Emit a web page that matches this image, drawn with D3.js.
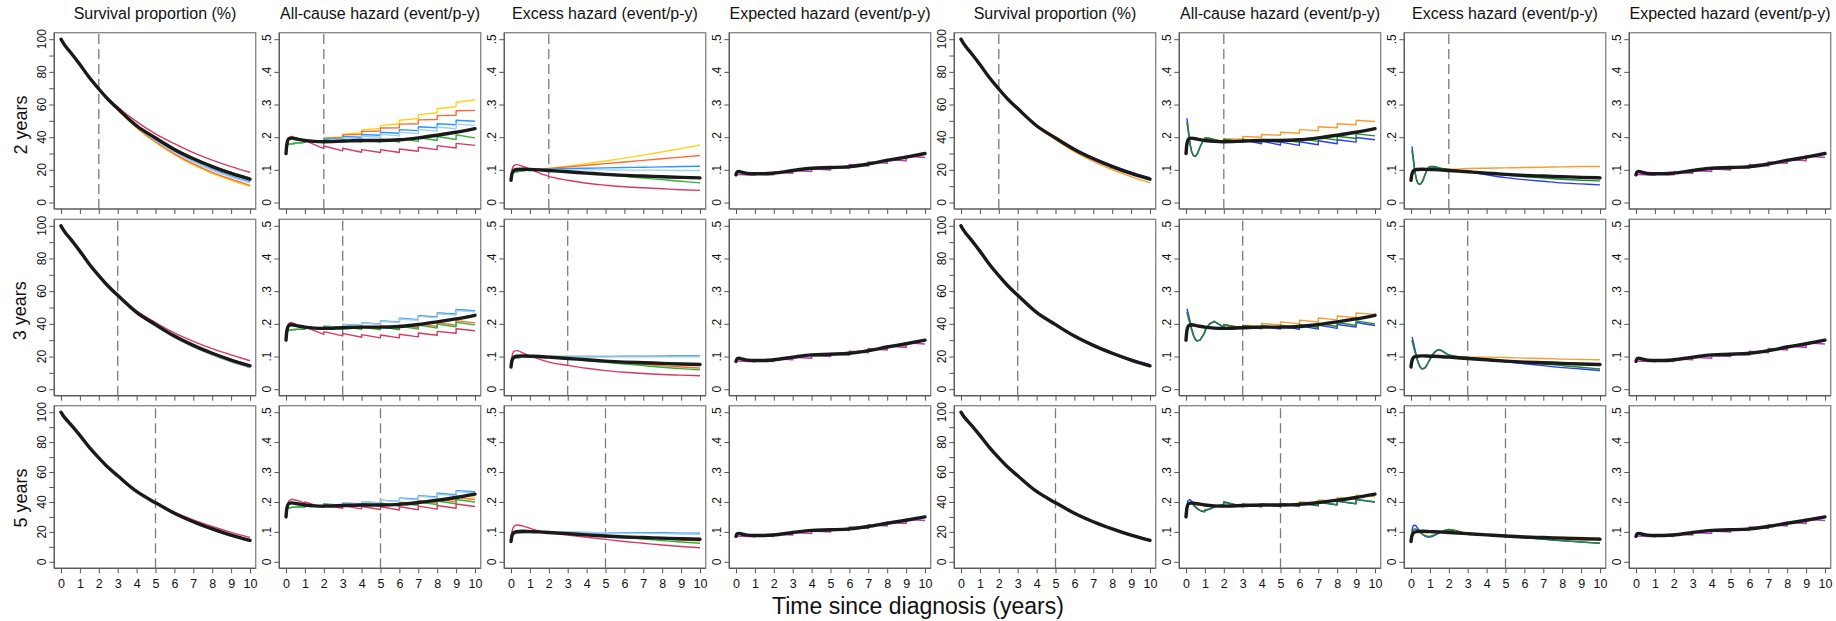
<!DOCTYPE html>
<html>
<head>
<meta charset="utf-8">
<script src="https://cdn.jsdelivr.net/npm/d3@7"></script>
<style>
  body { margin: 0; background: #ffffff; }
  text { font-family: "Liberation Sans", Arial, Helvetica, sans-serif; fill: #111; }
</style>
</head>
<body>
<svg id="chart" width="1836" height="621"></svg>
<script>
// ---------- labels and ticks ----------
const columnTitles = ["Survival proportion (%)", "All-cause hazard (event/p-y)", "Excess hazard (event/p-y)", "Expected hazard (event/p-y)"];
const rowLabels = ["2 years", "3 years", "5 years"];
const cutYears = [2, 3, 5];
const xTicks = [0, 1, 2, 3, 4, 5, 6, 7, 8, 9, 10];
const survTicks = [0, 10, 20, 30, 40, 50, 60, 70, 80, 90, 100];
const survLabelTicks = [0, 20, 40, 60, 80, 100];
const survTickLabels = ["0", "20", "40", "60", "80", "100"];
const hazTicks = [0, 0.1, 0.2, 0.3, 0.4, 0.5];
const hazTickLabels = ["0", ".1", ".2", ".3", ".4", ".5"];
const xTitle = "Time since diagnosis (years)";

// ---------- time grids ----------
const tSurvBlack = [0, 0.1, 0.25, 0.5, 1, 1.5, 2, 2.5, 3, 4, 5, 6, 7, 8, 9, 10];
const tFrom2 = [2, 3, 4, 5, 6, 7, 8, 9, 10];
const tFrom3 = [3, 4, 5, 6, 7, 8, 9, 10];
const tFrom5 = [5, 6, 7, 8, 9, 10];
const tSmooth = [0, 0.05, 0.15, 0.3, 0.6, 1, 1.5, 2, 3, 4, 5, 6, 7, 8, 9, 10];
// repeated years: value just before, then just after the yearly life-table jump
const tSaw = [0, 0.05, 0.15, 0.3, 0.6, 1, 1, 1.5, 2, 2, 3, 3, 4, 4, 5, 5, 6, 6, 7, 7, 8, 8, 9, 9, 10];
const tSawRight = [0.05, 0.1, 0.2, 0.3, 0.4, 0.5, 0.6, 0.75, 0.9, 1, 1, 1.25, 1.5, 2, 2, 3, 3, 4, 4, 5, 5, 6, 6, 7, 7, 8, 8, 9, 9, 10];
const tOsc = [0.05, 0.1, 0.2, 0.3, 0.4, 0.5, 0.6, 0.75, 0.9, 1, 1.25, 1.5, 2, 3, 4, 5, 6, 7, 8, 9, 10];
const tStep = [0, 1, 1, 2, 2, 3, 3, 4, 4, 5, 5, 6, 6, 7, 7, 8, 8, 9, 9, 10];

// ---------- full-data model (thick black) ----------
const survBlack = [100, 98, 95.5, 92, 84.5, 76.5, 69.5, 63, 57.5, 47, 39.5, 32.5, 26.8, 22, 17.8, 14.3];
const allCauseBlack = [0.150, 0.180, 0.195, 0.197, 0.194, 0.190, 0.187, 0.186, 0.188, 0.190, 0.190, 0.192, 0.198, 0.206, 0.215, 0.226];
const excessBlack = [0.068, 0.087, 0.098, 0.101, 0.102, 0.101, 0.100, 0.098, 0.094, 0.090, 0.086, 0.083, 0.081, 0.079, 0.077, 0.0755];
const expectedBlack = [0.085, 0.093, 0.095, 0.093, 0.089, 0.088, 0.088, 0.090, 0.098, 0.105, 0.107, 0.110, 0.118, 0.129, 0.139, 0.150];
const expectedLifeTable = [0.086, 0.084, 0.088, 0.085, 0.093, 0.090, 0.098, 0.095, 0.103, 0.100, 0.109, 0.105, 0.116, 0.112, 0.124, 0.120, 0.132, 0.128, 0.142, 0.138];

// ---------- left block, 2-year follow-up ----------
const survL1Yellow = [69.5, 56.6, 45.7, 36.8, 29.3, 23.0, 17.9, 13.6, 9.8];
const survL1Orange = [69.5, 56.8, 46.0, 37.2, 29.8, 23.6, 18.5, 14.3, 10.5];
const survL1Blue = [69.5, 57.2, 46.5, 38.2, 31.1, 25.1, 20.2, 16.1, 12.6];
const survL1LightBlue = [69.5, 57.1, 46.4, 38.0, 30.8, 24.8, 19.8, 15.6, 12.0];
const survL1Green = [69.5, 57.6, 47.5, 39.8, 33.0, 27.4, 22.6, 18.5, 15.0];
const survL1Crimson = [69.5, 58.5, 49.5, 42.0, 36.0, 30.5, 26.0, 22.0, 18.5];

const allL1Yellow = [0.174, 0.176, 0.178, 0.180, 0.182, 0.184, 0.188, 0.189, 0.189, 0.197, 0.201, 0.209, 0.214, 0.222, 0.227, 0.236, 0.241, 0.252, 0.257, 0.269, 0.275, 0.287, 0.293, 0.307, 0.314];
const allL1Orange = [0.174, 0.176, 0.178, 0.180, 0.182, 0.184, 0.188, 0.189, 0.189, 0.197, 0.199, 0.207, 0.209, 0.217, 0.219, 0.228, 0.229, 0.240, 0.241, 0.253, 0.254, 0.266, 0.267, 0.281, 0.282];
const allL1Blue = [0.174, 0.176, 0.178, 0.180, 0.182, 0.184, 0.188, 0.188, 0.187, 0.195, 0.194, 0.202, 0.200, 0.208, 0.206, 0.215, 0.212, 0.223, 0.220, 0.232, 0.229, 0.241, 0.238, 0.252, 0.249];
const allL1LightBlue = [0.174, 0.176, 0.178, 0.180, 0.182, 0.184, 0.188, 0.188, 0.186, 0.194, 0.190, 0.198, 0.195, 0.203, 0.200, 0.209, 0.204, 0.215, 0.211, 0.223, 0.219, 0.231, 0.226, 0.240, 0.236];
const allL1Green = [0.174, 0.176, 0.178, 0.180, 0.182, 0.184, 0.188, 0.188, 0.185, 0.193, 0.185, 0.193, 0.185, 0.193, 0.185, 0.194, 0.185, 0.196, 0.187, 0.199, 0.190, 0.202, 0.193, 0.207, 0.198];
const allL1Crimson = [0.161, 0.184, 0.199, 0.202, 0.196, 0.186, 0.190, 0.177, 0.165, 0.173, 0.158, 0.166, 0.154, 0.162, 0.153, 0.162, 0.153, 0.164, 0.157, 0.169, 0.162, 0.174, 0.167, 0.181, 0.175];

const excL1Yellow = [0.088, 0.090, 0.092, 0.094, 0.097, 0.100, 0.102, 0.104, 0.111, 0.119, 0.127, 0.136, 0.145, 0.155, 0.165, 0.176];
const excL1Orange = [0.088, 0.090, 0.092, 0.094, 0.097, 0.100, 0.102, 0.104, 0.109, 0.114, 0.119, 0.124, 0.129, 0.134, 0.139, 0.144];
const excL1Blue = [0.088, 0.090, 0.092, 0.094, 0.097, 0.100, 0.101, 0.102, 0.104, 0.105, 0.106, 0.107, 0.108, 0.109, 0.110, 0.111];
const excL1LightBlue = [0.088, 0.090, 0.092, 0.094, 0.097, 0.100, 0.101, 0.101, 0.100, 0.100, 0.100, 0.099, 0.099, 0.099, 0.098, 0.098];
const excL1Green = [0.088, 0.090, 0.092, 0.094, 0.097, 0.100, 0.101, 0.100, 0.095, 0.090, 0.085, 0.080, 0.075, 0.070, 0.065, 0.060];
const excL1Crimson = [0.075, 0.098, 0.113, 0.116, 0.111, 0.102, 0.090, 0.080, 0.068, 0.059, 0.053, 0.048, 0.045, 0.042, 0.039, 0.037];

// ---------- left block, 3-year follow-up ----------
const survL2Yellow = [57.5, 46.8, 38.7, 31.7, 25.9, 20.9, 16.7, 13.1];
const survL2Orange = [57.5, 47.0, 39.5, 32.6, 26.9, 22.1, 18.0, 14.4];
const survL2Blue = [57.5, 46.8, 38.8, 31.8, 26.0, 21.1, 16.9, 13.3];
const survL2LightBlue = [57.5, 46.8, 38.8, 31.8, 26.0, 21.0, 16.8, 13.2];
const survL2Green = [57.5, 47.1, 39.6, 32.7, 27.0, 22.3, 18.2, 14.6];
const survL2Crimson = [57.5, 48.0, 40.8, 34.5, 29.3, 24.8, 21.0, 17.4];

const allL2Yellow = [0.174, 0.177, 0.180, 0.182, 0.183, 0.183, 0.187, 0.187, 0.185, 0.193, 0.190, 0.198, 0.195, 0.203, 0.200, 0.209, 0.205, 0.216, 0.212, 0.224, 0.221, 0.233, 0.229, 0.243, 0.239];
const allL2Orange = [0.174, 0.177, 0.180, 0.182, 0.183, 0.183, 0.187, 0.186, 0.183, 0.191, 0.185, 0.193, 0.185, 0.193, 0.185, 0.194, 0.185, 0.196, 0.188, 0.200, 0.192, 0.204, 0.196, 0.210, 0.203];
const allL2Blue = [0.174, 0.177, 0.180, 0.182, 0.183, 0.183, 0.187, 0.187, 0.185, 0.193, 0.190, 0.198, 0.195, 0.203, 0.200, 0.209, 0.206, 0.217, 0.213, 0.225, 0.221, 0.233, 0.230, 0.244, 0.240];
const allL2LightBlue = [0.174, 0.177, 0.180, 0.182, 0.183, 0.183, 0.187, 0.187, 0.185, 0.193, 0.189, 0.197, 0.194, 0.202, 0.199, 0.208, 0.204, 0.215, 0.211, 0.223, 0.219, 0.231, 0.227, 0.241, 0.237];
const allL2Green = [0.174, 0.177, 0.180, 0.182, 0.183, 0.183, 0.187, 0.186, 0.183, 0.191, 0.184, 0.192, 0.183, 0.191, 0.182, 0.191, 0.182, 0.193, 0.184, 0.196, 0.187, 0.199, 0.191, 0.205, 0.197];
const allL2Crimson = [0.161, 0.186, 0.202, 0.204, 0.197, 0.186, 0.190, 0.179, 0.168, 0.176, 0.163, 0.171, 0.159, 0.167, 0.157, 0.166, 0.157, 0.168, 0.160, 0.172, 0.165, 0.177, 0.171, 0.185, 0.179];

const excL2Yellow = [0.088, 0.091, 0.094, 0.096, 0.098, 0.099, 0.100, 0.100, 0.100, 0.100, 0.100, 0.100, 0.100, 0.101, 0.101, 0.101];
const excL2Orange = [0.088, 0.091, 0.094, 0.096, 0.098, 0.099, 0.099, 0.098, 0.095, 0.090, 0.085, 0.080, 0.076, 0.072, 0.068, 0.065];
const excL2Blue = [0.088, 0.091, 0.094, 0.096, 0.098, 0.099, 0.100, 0.100, 0.100, 0.100, 0.100, 0.101, 0.101, 0.101, 0.102, 0.102];
const excL2LightBlue = [0.088, 0.091, 0.094, 0.096, 0.098, 0.099, 0.100, 0.100, 0.099, 0.099, 0.099, 0.099, 0.099, 0.099, 0.099, 0.099];
const excL2Green = [0.088, 0.091, 0.094, 0.096, 0.098, 0.099, 0.099, 0.098, 0.094, 0.088, 0.082, 0.077, 0.072, 0.067, 0.063, 0.059];
const excL2Crimson = [0.075, 0.100, 0.116, 0.118, 0.112, 0.102, 0.092, 0.083, 0.073, 0.064, 0.057, 0.052, 0.048, 0.045, 0.043, 0.041];

// ---------- left block, 5-year follow-up ----------
const survL3Yellow = [39.5, 32.4, 26.6, 21.7, 17.5, 14.0];
const survL3Orange = [39.5, 32.5, 26.8, 22.0, 17.9, 14.4];
const survL3Blue = [39.5, 32.3, 26.4, 21.4, 17.2, 13.7];
const survL3LightBlue = [39.5, 32.3, 26.5, 21.5, 17.3, 13.8];
const survL3Green = [39.5, 32.6, 27.0, 22.3, 18.2, 14.8];
const survL3Crimson = [39.5, 33.2, 28.0, 23.6, 19.7, 16.3];

const allL3Yellow = [0.174, 0.177, 0.180, 0.182, 0.183, 0.183, 0.187, 0.187, 0.185, 0.193, 0.185, 0.193, 0.186, 0.194, 0.187, 0.196, 0.189, 0.200, 0.194, 0.206, 0.200, 0.212, 0.207, 0.221, 0.216];
const allL3Orange = [0.174, 0.177, 0.180, 0.182, 0.183, 0.183, 0.187, 0.187, 0.185, 0.193, 0.185, 0.193, 0.186, 0.194, 0.187, 0.196, 0.187, 0.198, 0.191, 0.203, 0.196, 0.208, 0.201, 0.215, 0.208];
const allL3Blue = [0.174, 0.177, 0.180, 0.182, 0.183, 0.183, 0.187, 0.187, 0.185, 0.193, 0.189, 0.197, 0.193, 0.201, 0.197, 0.206, 0.202, 0.213, 0.209, 0.221, 0.217, 0.229, 0.224, 0.238, 0.234];
const allL3LightBlue = [0.174, 0.177, 0.180, 0.182, 0.183, 0.183, 0.187, 0.187, 0.185, 0.193, 0.189, 0.197, 0.193, 0.201, 0.197, 0.206, 0.201, 0.212, 0.207, 0.219, 0.214, 0.226, 0.221, 0.235, 0.230];
const allL3Green = [0.174, 0.177, 0.180, 0.182, 0.183, 0.183, 0.187, 0.187, 0.185, 0.193, 0.185, 0.193, 0.186, 0.194, 0.187, 0.196, 0.186, 0.197, 0.188, 0.200, 0.191, 0.203, 0.194, 0.208, 0.200];
const allL3Crimson = [0.161, 0.186, 0.204, 0.209, 0.205, 0.196, 0.200, 0.190, 0.182, 0.190, 0.179, 0.187, 0.177, 0.185, 0.175, 0.184, 0.173, 0.184, 0.174, 0.186, 0.176, 0.188, 0.179, 0.193, 0.185];

const excL3Yellow = [0.088, 0.091, 0.094, 0.096, 0.098, 0.099, 0.100, 0.100, 0.095, 0.091, 0.087, 0.084, 0.082, 0.080, 0.079, 0.078];
const excL3Orange = [0.088, 0.091, 0.094, 0.096, 0.098, 0.099, 0.100, 0.100, 0.095, 0.091, 0.087, 0.082, 0.079, 0.076, 0.073, 0.070];
const excL3Blue = [0.088, 0.091, 0.094, 0.096, 0.098, 0.099, 0.100, 0.100, 0.099, 0.098, 0.097, 0.097, 0.097, 0.097, 0.096, 0.096];
const excL3LightBlue = [0.088, 0.091, 0.094, 0.096, 0.098, 0.099, 0.100, 0.100, 0.099, 0.098, 0.097, 0.096, 0.095, 0.094, 0.093, 0.092];
const excL3Green = [0.088, 0.091, 0.094, 0.096, 0.098, 0.099, 0.100, 0.100, 0.095, 0.091, 0.087, 0.081, 0.076, 0.071, 0.066, 0.062];
const excL3Crimson = [0.075, 0.100, 0.118, 0.123, 0.120, 0.112, 0.103, 0.097, 0.089, 0.082, 0.075, 0.068, 0.062, 0.056, 0.051, 0.047];

// ---------- right block, 2-year follow-up ----------
const survR1Orange = [69.5, 57.3, 46.5, 38.5, 31.2, 25.2, 20.2, 15.8, 12.0];
const survR1Blue = [69.5, 57.6, 47.3, 39.9, 33.0, 27.4, 22.7, 18.6, 15.2];
const survR1Green = [69.5, 57.5, 47.1, 39.6, 32.7, 27.0, 22.3, 18.2, 14.6];

const allR1Orange = [0.246, 0.226, 0.181, 0.154, 0.143, 0.142, 0.150, 0.172, 0.189, 0.194, 0.198, 0.197, 0.193, 0.186, 0.195, 0.194, 0.202, 0.200, 0.208, 0.206, 0.215, 0.212, 0.223, 0.220, 0.232, 0.229, 0.241, 0.238, 0.252, 0.248];
const allR1Blue = [0.258, 0.236, 0.186, 0.156, 0.143, 0.141, 0.148, 0.170, 0.188, 0.193, 0.197, 0.195, 0.190, 0.185, 0.193, 0.184, 0.192, 0.180, 0.188, 0.176, 0.185, 0.175, 0.186, 0.177, 0.189, 0.180, 0.192, 0.185, 0.199, 0.192];
const allR1Green = [0.246, 0.226, 0.181, 0.154, 0.143, 0.142, 0.150, 0.172, 0.189, 0.194, 0.198, 0.197, 0.193, 0.186, 0.194, 0.186, 0.194, 0.185, 0.193, 0.184, 0.193, 0.184, 0.195, 0.187, 0.199, 0.191, 0.203, 0.196, 0.210, 0.204];

const excR1Orange = [0.160, 0.140, 0.095, 0.068, 0.057, 0.057, 0.065, 0.087, 0.105, 0.110, 0.110, 0.106, 0.102, 0.104, 0.105, 0.106, 0.107, 0.108, 0.109, 0.110, 0.110];
const excR1Blue = [0.172, 0.150, 0.100, 0.070, 0.057, 0.056, 0.063, 0.085, 0.104, 0.109, 0.108, 0.104, 0.100, 0.094, 0.085, 0.076, 0.070, 0.065, 0.060, 0.057, 0.054];
const excR1Green = [0.160, 0.140, 0.095, 0.068, 0.057, 0.057, 0.065, 0.087, 0.105, 0.110, 0.110, 0.106, 0.101, 0.096, 0.090, 0.084, 0.079, 0.075, 0.071, 0.068, 0.066];

// ---------- right block, 3-year follow-up ----------
const survR2Orange = [57.5, 47.0, 39.4, 32.3, 26.5, 21.6, 17.3, 13.7];
const survR2Blue = [57.5, 47.1, 39.7, 32.8, 27.2, 22.5, 18.4, 15.0];
const survR2Green = [57.5, 47.1, 39.6, 32.7, 27.0, 22.3, 18.1, 14.7];

const allR2Orange = [0.236, 0.224, 0.202, 0.181, 0.163, 0.151, 0.147, 0.151, 0.165, 0.176, 0.180, 0.201, 0.208, 0.190, 0.198, 0.188, 0.196, 0.193, 0.201, 0.197, 0.206, 0.200, 0.211, 0.206, 0.218, 0.212, 0.224, 0.219, 0.233, 0.229];
const allR2Blue = [0.246, 0.236, 0.211, 0.186, 0.166, 0.153, 0.148, 0.151, 0.164, 0.174, 0.178, 0.199, 0.207, 0.189, 0.197, 0.186, 0.194, 0.185, 0.193, 0.184, 0.193, 0.183, 0.194, 0.184, 0.196, 0.186, 0.198, 0.190, 0.204, 0.195];
const allR2Green = [0.236, 0.224, 0.202, 0.181, 0.163, 0.151, 0.147, 0.151, 0.165, 0.176, 0.180, 0.201, 0.208, 0.190, 0.198, 0.187, 0.195, 0.187, 0.195, 0.187, 0.196, 0.187, 0.198, 0.189, 0.201, 0.192, 0.204, 0.195, 0.209, 0.200];

const excR2Orange = [0.150, 0.138, 0.116, 0.095, 0.077, 0.066, 0.062, 0.066, 0.081, 0.092, 0.114, 0.121, 0.105, 0.098, 0.098, 0.097, 0.095, 0.094, 0.092, 0.091, 0.090];
const excR2Blue = [0.160, 0.150, 0.125, 0.100, 0.080, 0.068, 0.063, 0.066, 0.080, 0.090, 0.112, 0.120, 0.104, 0.096, 0.090, 0.084, 0.078, 0.072, 0.066, 0.062, 0.057];
const excR2Green = [0.150, 0.138, 0.116, 0.095, 0.077, 0.066, 0.062, 0.066, 0.081, 0.092, 0.114, 0.121, 0.105, 0.097, 0.092, 0.087, 0.082, 0.077, 0.072, 0.067, 0.062];

// ---------- right block, 5-year follow-up ----------
const survR3Orange = [39.5, 32.4, 26.6, 21.8, 17.6, 14.0];
const survR3Blue = [39.5, 32.6, 27.0, 22.3, 18.2, 14.7];
const survR3Green = [39.5, 32.6, 26.9, 22.2, 18.1, 14.6];

const allR3Orange = [0.181, 0.191, 0.196, 0.194, 0.189, 0.182, 0.177, 0.172, 0.169, 0.169, 0.173, 0.177, 0.185, 0.193, 0.201, 0.185, 0.193, 0.185, 0.193, 0.186, 0.195, 0.190, 0.201, 0.195, 0.207, 0.202, 0.214, 0.209, 0.223, 0.218];
const allR3Blue = [0.186, 0.204, 0.208, 0.203, 0.194, 0.185, 0.178, 0.171, 0.167, 0.167, 0.171, 0.175, 0.183, 0.191, 0.199, 0.184, 0.192, 0.184, 0.192, 0.185, 0.194, 0.185, 0.196, 0.187, 0.199, 0.190, 0.202, 0.194, 0.208, 0.200];
const allR3Green = [0.181, 0.191, 0.196, 0.194, 0.189, 0.182, 0.177, 0.172, 0.169, 0.169, 0.173, 0.177, 0.185, 0.193, 0.201, 0.185, 0.193, 0.185, 0.193, 0.186, 0.195, 0.186, 0.197, 0.188, 0.200, 0.191, 0.203, 0.194, 0.208, 0.200];

const excR3Orange = [0.095, 0.105, 0.110, 0.108, 0.103, 0.097, 0.092, 0.087, 0.085, 0.085, 0.090, 0.098, 0.108, 0.095, 0.090, 0.086, 0.085, 0.083, 0.082, 0.081, 0.080];
const excR3Blue = [0.100, 0.118, 0.122, 0.117, 0.108, 0.100, 0.093, 0.086, 0.083, 0.083, 0.088, 0.096, 0.106, 0.094, 0.089, 0.085, 0.080, 0.075, 0.070, 0.066, 0.062];
const excR3Green = [0.095, 0.105, 0.110, 0.108, 0.103, 0.097, 0.092, 0.087, 0.085, 0.085, 0.090, 0.098, 0.108, 0.095, 0.090, 0.086, 0.081, 0.076, 0.071, 0.066, 0.062];

// ---------- colours ----------
const cYellow = "#FFD21A", cOrange = "#FF6A33", cBlue = "#2E96F5", cLightBlue = "#A3CFF2", cGreen = "#2DB336", cCrimson = "#D63A63";
const cOrangeR = "#F2A035", cBlueR = "#2B3DF2", cGreenR = "#1F8A2F";
const cPurple = "#B040B0", cBlack = "#1a1a1a";

// ---------- series tables built from the arrays above ----------
function ser(t, v, color) { return { t, v, color }; }
const leftSurvT = [tFrom2, tFrom3, tFrom5];
const leftTables = [
  [ // survival
    [[survL1Yellow, cYellow], [survL1Orange, cOrange], [survL1Blue, cBlue], [survL1LightBlue, cLightBlue], [survL1Green, cGreen], [survL1Crimson, cCrimson]],
    [[survL2Yellow, cYellow], [survL2Orange, cOrange], [survL2Blue, cBlue], [survL2LightBlue, cLightBlue], [survL2Green, cGreen], [survL2Crimson, cCrimson]],
    [[survL3Yellow, cYellow], [survL3Orange, cOrange], [survL3Blue, cBlue], [survL3LightBlue, cLightBlue], [survL3Green, cGreen], [survL3Crimson, cCrimson]]
  ],
  [ // all-cause
    [[allL1Yellow, cYellow], [allL1Orange, cOrange], [allL1Blue, cBlue], [allL1LightBlue, cLightBlue], [allL1Green, cGreen], [allL1Crimson, cCrimson]],
    [[allL2Yellow, cYellow], [allL2Orange, cOrange], [allL2Blue, cBlue], [allL2LightBlue, cLightBlue], [allL2Green, cGreen], [allL2Crimson, cCrimson]],
    [[allL3Yellow, cYellow], [allL3Orange, cOrange], [allL3Blue, cBlue], [allL3LightBlue, cLightBlue], [allL3Green, cGreen], [allL3Crimson, cCrimson]]
  ],
  [ // excess
    [[excL1Yellow, cYellow], [excL1Orange, cOrange], [excL1Blue, cBlue], [excL1LightBlue, cLightBlue], [excL1Green, cGreen], [excL1Crimson, cCrimson]],
    [[excL2Yellow, cYellow], [excL2Orange, cOrange], [excL2Blue, cBlue], [excL2LightBlue, cLightBlue], [excL2Green, cGreen], [excL2Crimson, cCrimson]],
    [[excL3Yellow, cYellow], [excL3Orange, cOrange], [excL3Blue, cBlue], [excL3LightBlue, cLightBlue], [excL3Green, cGreen], [excL3Crimson, cCrimson]]
  ]
];
const rightTables = [
  [
    [[survR1Orange, cOrangeR], [survR1Blue, cBlueR], [survR1Green, cGreenR]],
    [[survR2Orange, cOrangeR], [survR2Blue, cBlueR], [survR2Green, cGreenR]],
    [[survR3Orange, cOrangeR], [survR3Blue, cBlueR], [survR3Green, cGreenR]]
  ],
  [
    [[allR1Orange, cOrangeR], [allR1Blue, cBlueR], [allR1Green, cGreenR]],
    [[allR2Orange, cOrangeR], [allR2Blue, cBlueR], [allR2Green, cGreenR]],
    [[allR3Orange, cOrangeR], [allR3Blue, cBlueR], [allR3Green, cGreenR]]
  ],
  [
    [[excR1Orange, cOrangeR], [excR1Blue, cBlueR], [excR1Green, cGreenR]],
    [[excR2Orange, cOrangeR], [excR2Blue, cBlueR], [excR2Green, cGreenR]],
    [[excR3Orange, cOrangeR], [excR3Blue, cBlueR], [excR3Green, cGreenR]]
  ]
];

function coloured(block, kind, row) {
  const table = block === 0 ? leftTables : rightTables;
  let t;
  if (kind === 0) t = leftSurvT[row];
  else if (kind === 1) t = block === 0 ? tSaw : tSawRight;
  else t = block === 0 ? tSmooth : tOsc;
  return table[kind][row].map(([v, c]) => ser(t, v, c));
}
const blackSeries = [
  ser(tSurvBlack, survBlack, cBlack),
  ser(tSmooth, allCauseBlack, cBlack),
  ser(tSmooth, excessBlack, cBlack),
  ser(tSmooth, expectedBlack, cBlack)
];

// ---------- layout ----------
const svg = d3.select("#chart");
svg.append("rect").attr("width", 1836).attr("height", 621).attr("fill", "#fff");

const panelLeft0 = 54.3, colStep = 225, panelW = 201.4;
const rowTops = [32.7, 219.3, 405.7];
const rowHeights = [176.3, 176.4, 162.6];
const rowLabelY = [125, 310.8, 498];

function drawPanel(row, col) {
  const block = col < 4 ? 0 : 1;
  const kind = col % 4;
  const left = panelLeft0 + colStep * col;
  const top = rowTops[row], h = rowHeights[row];
  const bottom = top + h, right = left + panelW;

  const x = d3.scaleLinear().domain([0, 10]).range([left + 6.7, right - 5.7]);
  const yMax = kind === 0 ? 100 : 0.5;
  const y = d3.scaleLinear().domain([0, yMax]).range([bottom - 6.5, top + 6.5]);

  const g = svg.append("g");
  const clipId = `clip-${row}-${col}`;
  g.append("clipPath").attr("id", clipId)
    .append("rect").attr("x", left).attr("y", top).attr("width", panelW).attr("height", h);

  // plot region frame
  g.append("rect").attr("x", left).attr("y", top).attr("width", panelW).attr("height", h)
    .attr("fill", "#fff").attr("stroke", "#8a8a8a").attr("stroke-width", 1.4);

  // y axis
  const yTicks = kind === 0 ? survTicks : hazTicks;
  const yAxis = d3.axisLeft(y).tickValues(yTicks).tickSize(5).tickSizeOuter(0).tickFormat("");
  const ya = g.append("g").attr("transform", `translate(${left},0)`).call(yAxis);
  ya.select(".domain").remove();
  ya.selectAll(".tick line").attr("stroke", "#555").attr("stroke-width", 1);
  g.append("line").attr("x1", left).attr("x2", left).attr("y1", top).attr("y2", bottom)
    .attr("stroke", "#5a5a5a").attr("stroke-width", 1.2);
  const labTicks = kind === 0 ? survLabelTicks : hazTicks;
  const labText = kind === 0 ? survTickLabels : hazTickLabels;
  labTicks.forEach((v, i) => {
    const px = left - 8, py = y(v);
    g.append("text").attr("x", px).attr("y", py)
      .attr("transform", `rotate(-90,${px},${py})`)
      .attr("text-anchor", "middle").attr("font-size", 12).text(labText[i]);
  });

  // x axis
  const xAxis = d3.axisBottom(x).tickValues(xTicks).tickSize(5).tickSizeOuter(0)
    .tickPadding(6).tickFormat(row === 2 ? (d => String(d)) : "");
  const xa = g.append("g").attr("transform", `translate(0,${bottom})`).call(xAxis);
  xa.select(".domain").remove();
  xa.selectAll(".tick line").attr("stroke", "#555").attr("stroke-width", 1);
  xa.selectAll(".tick text").attr("font-size", 12.5).attr("fill", "#111")
    .attr("font-family", "\"Liberation Sans\", Arial, sans-serif");
  g.append("line").attr("x1", left).attr("x2", right).attr("y1", bottom).attr("y2", bottom)
    .attr("stroke", "#5a5a5a").attr("stroke-width", 1.2);

  const plot = g.append("g").attr("clip-path", `url(#${clipId})`);

  // follow-up cut-off
  if (kind !== 3) {
    plot.append("line").attr("x1", x(cutYears[row])).attr("x2", x(cutYears[row]))
      .attr("y1", bottom).attr("y2", top)
      .attr("stroke", "#7a7a7a").attr("stroke-width", 1.3).attr("stroke-dasharray", "10,5");
  }

  const lineFor = (s, curve) => d3.line()
    .x((d, i) => x(s.t[i])).y(d => y(d)).curve(curve)(s.v);

  if (kind === 3) {
    plot.append("path").attr("d", lineFor(ser(tStep, expectedLifeTable), d3.curveLinear))
      .attr("fill", "none").attr("stroke", cPurple).attr("stroke-width", 1.5);
  } else {
    const curve = kind === 1 ? d3.curveLinear : d3.curveMonotoneX;
    coloured(block, kind, row).forEach(s => {
      plot.append("path").attr("d", lineFor(s, curve))
        .attr("fill", "none").attr("stroke", s.color).attr("stroke-width", 1.4)
        .attr("stroke-linejoin", "round");
    });
  }
  const b = blackSeries[kind];
  plot.append("path").attr("d", lineFor(b, d3.curveMonotoneX))
    .attr("fill", "none").attr("stroke", cBlack).attr("stroke-width", 3.4)
    .attr("stroke-linecap", "round").attr("stroke-linejoin", "round");

  if (row === 0) {
    svg.append("text").attr("x", (left + right) / 2).attr("y", 18.5)
      .attr("text-anchor", "middle").attr("font-size", 16).text(columnTitles[kind]);
  }
}

for (let r = 0; r < 3; r++) for (let c = 0; c < 8; c++) drawPanel(r, c);

rowLabels.forEach((lab, r) => {
  svg.append("text").attr("x", 26.5).attr("y", rowLabelY[r])
    .attr("transform", `rotate(-90,26.5,${rowLabelY[r]})`)
    .attr("text-anchor", "middle").attr("font-size", 18).text(lab);
});

svg.append("text").attr("x", 918).attr("y", 614).attr("text-anchor", "middle")
  .attr("font-size", 23).text(xTitle);
</script>
</body>
</html>
